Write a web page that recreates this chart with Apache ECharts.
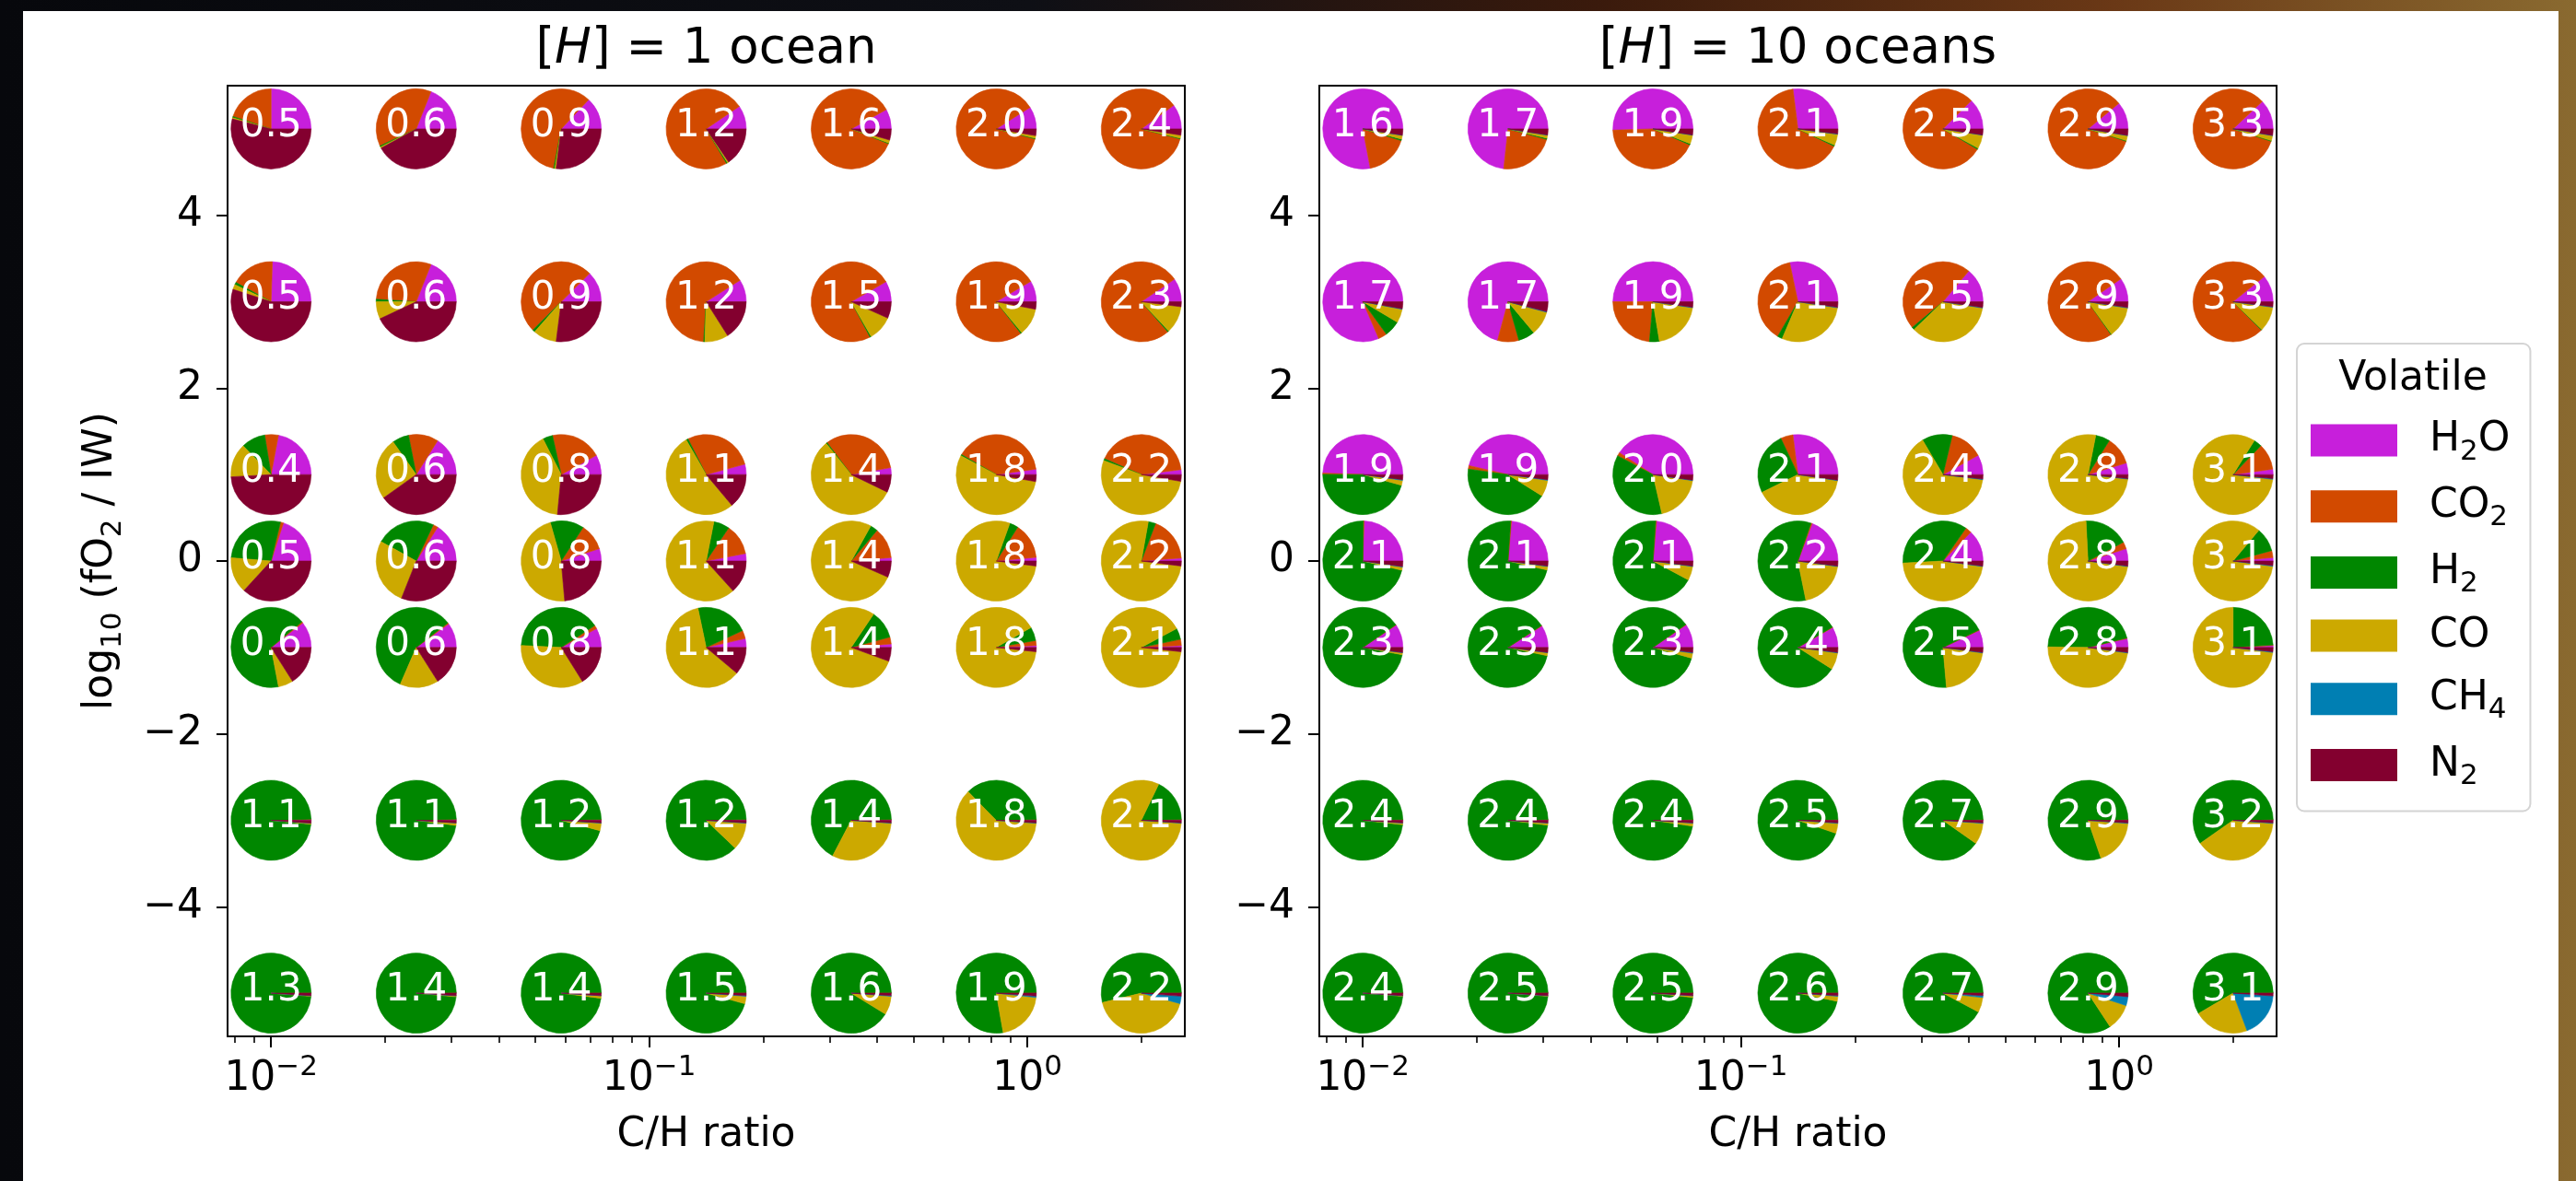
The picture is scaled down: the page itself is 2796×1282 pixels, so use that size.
<!DOCTYPE html>
<html><head><meta charset="utf-8">
<script src="https://cdn.jsdelivr.net/npm/echarts@6/dist/echarts.min.js"></script>
<style>
html,body{margin:0;padding:0;width:2796px;height:1282px;overflow:hidden;
background:linear-gradient(90deg,#07080c 0%,#0e0f15 40%,#3a1a0c 62%,#6a3816 82%,#8a6a30 100%);}
#paper{position:absolute;left:25px;top:12px;width:2752px;height:1270px;background:#fff;}
#chart{position:absolute;left:0;top:0;width:2796px;height:1282px;}
</style></head><body><div id="paper"></div><div id="chart"></div>
<script>
// ---------------- data ----------------
const CH_RATIO = [0.01, 0.0242, 0.0585, 0.1414, 0.342, 0.827, 2.0];
const LOG_FO2 = [5, 3, 1, 0, -1, -3, -5];
const VOLATILES = ['H2O', 'CO2', 'H2', 'CO', 'CH4', 'N2'];
const VOL_COLORS = ['#C71FDB', '#D24A00', '#008700', '#CCA900', '#007FB3', '#83002F'];
const X_MAJOR_TICKS = [0.01, 0.1, 1];
const X_MINOR_TICKS = [0.008, 0.009, 0.02, 0.03, 0.04, 0.05, 0.06, 0.07, 0.08, 0.09,
  0.2, 0.3, 0.4, 0.5, 0.6, 0.7, 0.8, 0.9, 2];
const Y_TICKS = [-4, -2, 0, 2, 4];
const X_RANGE = [0.007673, 2.6069];
const Y_RANGE = [-5.5, 5.5];

// Pie labels (rows follow LOG_FO2, columns follow CH_RATIO)
const LABELS_1OCEAN = [
  [0.5, 0.6, 0.9, 1.2, 1.6, 2.0, 2.4],
  [0.5, 0.6, 0.9, 1.2, 1.5, 1.9, 2.3],
  [0.4, 0.6, 0.8, 1.1, 1.4, 1.8, 2.2],
  [0.5, 0.6, 0.8, 1.1, 1.4, 1.8, 2.2],
  [0.6, 0.6, 0.8, 1.1, 1.4, 1.8, 2.1],
  [1.1, 1.1, 1.2, 1.2, 1.4, 1.8, 2.1],
  [1.3, 1.4, 1.4, 1.5, 1.6, 1.9, 2.2]
];
const LABELS_10OCEANS = [
  [1.6, 1.7, 1.9, 2.1, 2.5, 2.9, 3.3],
  [1.7, 1.7, 1.9, 2.1, 2.5, 2.9, 3.3],
  [1.9, 1.9, 2.0, 2.1, 2.4, 2.8, 3.1],
  [2.1, 2.1, 2.1, 2.2, 2.4, 2.8, 3.1],
  [2.3, 2.3, 2.3, 2.4, 2.5, 2.8, 3.1],
  [2.4, 2.4, 2.4, 2.5, 2.7, 2.9, 3.2],
  [2.4, 2.5, 2.5, 2.6, 2.7, 2.9, 3.1]
];

// Fractions [H2O, CO2, H2, CO, CH4, N2], one array per fO2 row — 1 ocean
const OCEAN1_FO2_P5 = [
  [0.25, 0.20, 0.005, 0.005, 0, 0.54], [0.19, 0.38, 0.005, 0.005, 0, 0.42],
  [0.13, 0.59, 0.005, 0.005, 0, 0.27], [0.095, 0.74, 0.005, 0.005, 0, 0.155],
  [0.08, 0.86, 0.003, 0.012, 0, 0.045], [0.09, 0.87, 0.003, 0.01, 0, 0.027],
  [0.1, 0.86, 0.003, 0.012, 0, 0.025]];
const OCEAN1_FO2_P3 = [
  [0.245, 0.175, 0.01, 0.02, 0, 0.55], [0.19, 0.30, 0.01, 0.07, 0, 0.43],
  [0.125, 0.50, 0.01, 0.095, 0, 0.27], [0.09, 0.65, 0.005, 0.095, 0, 0.16],
  [0.083, 0.745, 0.005, 0.10, 0, 0.067], [0.085, 0.77, 0.005, 0.11, 0, 0.03],
  [0.095, 0.77, 0.005, 0.11, 0, 0.02]];
const OCEAN1_FO2_P1 = [
  [0.22, 0.055, 0.097, 0.136, 0, 0.49], [0.16, 0.12, 0.067, 0.25, 0, 0.40],
  [0.08, 0.205, 0.04, 0.41, 0, 0.265], [0.042, 0.283, 0.008, 0.528, 0, 0.139],
  [0.028, 0.325, 0.005, 0.57, 0, 0.072], [0.022, 0.395, 0.005, 0.55, 0, 0.028],
  [0.02, 0.415, 0.008, 0.53, 0, 0.027]];
const OCEAN1_FO2_0 = [
  [0.2, 0.012, 0.275, 0.145, 0, 0.368], [0.16, 0.02, 0.24, 0.27, 0, 0.31],
  [0.05, 0.108, 0.136, 0.47, 0, 0.236], [0.03, 0.125, 0.064, 0.648, 0, 0.133],
  [0.014, 0.125, 0.03, 0.765, 0, 0.066], [0.015, 0.145, 0.035, 0.785, 0, 0.02],
  [0.012, 0.18, 0.03, 0.758, 0, 0.02]];
const OCEAN1_FO2_M1 = [
  [0.105, 0.005, 0.67, 0.06, 0, 0.16], [0.1, 0.005, 0.58, 0.155, 0, 0.16],
  [0.078, 0.014, 0.4, 0.347, 0, 0.161], [0.036, 0.033, 0.214, 0.606, 0, 0.111],
  [0.014, 0.028, 0.114, 0.788, 0, 0.056], [0.008, 0.02, 0.055, 0.9, 0, 0.017],
  [0.008, 0.025, 0.045, 0.905, 0, 0.017]];
const OCEAN1_FO2_M3 = [
  [0.004, 0.0005, 0.98, 0.004, 0.0005, 0.011], [0.004, 0.0005, 0.975, 0.01, 0.0005, 0.01],
  [0.003, 0.0005, 0.955, 0.03, 0.0015, 0.01], [0.003, 0.0005, 0.875, 0.11, 0.0015, 0.01],
  [0.003, 0.0005, 0.67, 0.315, 0.0015, 0.01], [0.003, 0.0005, 0.37, 0.615, 0.0015, 0.01],
  [0.003, 0.0005, 0.175, 0.81, 0.0015, 0.01]];
const OCEAN1_FO2_M5 = [
  [0.002, 0.0005, 0.985, 0.002, 0.0005, 0.01], [0.002, 0.0005, 0.983, 0.004, 0.0005, 0.01],
  [0.002, 0.0005, 0.977, 0.01, 0.0005, 0.01], [0.002, 0.0005, 0.955, 0.03, 0.0025, 0.01],
  [0.002, 0.0005, 0.91, 0.075, 0.0025, 0.01], [0.002, 0.0005, 0.775, 0.205, 0.005, 0.012],
  [0.002, 0.0005, 0.535, 0.42, 0.03, 0.012]];

// — 10 oceans
const OCEAN10_FO2_P5 = [
  [0.78, 0.173, 0.006, 0.015, 0.001, 0.025], [0.733, 0.225, 0.005, 0.012, 0.001, 0.024],
  [0.505, 0.43, 0.005, 0.035, 0.001, 0.024], [0.27, 0.66, 0.005, 0.045, 0.001, 0.02],
  [0.125, 0.79, 0.005, 0.055, 0.001, 0.024], [0.11, 0.84, 0.003, 0.02, 0.001, 0.026],
  [0.12, 0.83, 0.003, 0.02, 0.001, 0.026]];
const OCEAN10_FO2_P3 = [
  [0.815, 0.035, 0.065, 0.055, 0.002, 0.028], [0.708, 0.086, 0.067, 0.097, 0.002, 0.04],
  [0.5, 0.236, 0.04, 0.2, 0.002, 0.022], [0.283, 0.383, 0.02, 0.29, 0.002, 0.022],
  [0.139, 0.472, 0.011, 0.353, 0.002, 0.023], [0.097, 0.75, 0.003, 0.125, 0.002, 0.023],
  [0.108, 0.767, 0.003, 0.1, 0.002, 0.02]];
const OCEAN10_FO2_P1 = [
  [0.494, 0.005, 0.458, 0.02, 0.003, 0.02], [0.464, 0.014, 0.433, 0.066, 0.003, 0.02],
  [0.408, 0.014, 0.364, 0.19, 0.002, 0.022], [0.27, 0.05, 0.253, 0.403, 0.002, 0.022],
  [0.08, 0.133, 0.122, 0.645, 0.002, 0.018], [0.047, 0.114, 0.058, 0.763, 0.002, 0.016],
  [0.022, 0.106, 0.033, 0.82, 0.003, 0.016]];
const OCEAN10_FO2_0 = [
  [0.245, 0.003, 0.715, 0.013, 0.002, 0.022], [0.236, 0.003, 0.725, 0.014, 0.002, 0.02],
  [0.236, 0.003, 0.683, 0.056, 0.002, 0.02], [0.192, 0.005, 0.585, 0.196, 0.002, 0.02],
  [0.128, 0.025, 0.355, 0.47, 0.002, 0.02], [0.05, 0.028, 0.18, 0.72, 0.002, 0.02],
  [0.014, 0.028, 0.097, 0.84, 0.003, 0.018]];
const OCEAN10_FO2_M1 = [
  [0.094, 0.002, 0.875, 0.008, 0.001, 0.02], [0.09, 0.002, 0.875, 0.012, 0.001, 0.02],
  [0.095, 0.002, 0.86, 0.02, 0.003, 0.02], [0.083, 0.002, 0.825, 0.068, 0.002, 0.02],
  [0.07, 0.002, 0.692, 0.214, 0.002, 0.02], [0.036, 0.002, 0.46, 0.48, 0.002, 0.02],
  [0.008, 0.002, 0.24, 0.73, 0.003, 0.017]];
const OCEAN10_FO2_M3 = [
  [0.002, 0.0005, 0.98, 0.006, 0.0015, 0.01], [0.002, 0.0005, 0.978, 0.008, 0.0015, 0.01],
  [0.002, 0.0005, 0.975, 0.012, 0.0015, 0.01], [0.002, 0.0005, 0.945, 0.04, 0.0025, 0.01],
  [0.002, 0.0005, 0.9, 0.085, 0.0025, 0.01], [0.002, 0.0005, 0.8, 0.185, 0.0025, 0.01],
  [0.002, 0.0005, 0.595, 0.39, 0.0025, 0.01]];
const OCEAN10_FO2_M5 = [
  [0.002, 0.0005, 0.985, 0.002, 0.0005, 0.01], [0.002, 0.0005, 0.985, 0.002, 0.0005, 0.01],
  [0.002, 0.0005, 0.98, 0.007, 0.0005, 0.01], [0.002, 0.0005, 0.965, 0.02, 0.0025, 0.01],
  [0.002, 0.0005, 0.92, 0.06, 0.0075, 0.01], [0.002, 0.0005, 0.84, 0.107, 0.036, 0.014],
  [0.002, 0.0005, 0.582, 0.222, 0.182, 0.011]];

const ROWS_1OCEAN = [OCEAN1_FO2_P5, OCEAN1_FO2_P3, OCEAN1_FO2_P1, OCEAN1_FO2_0, OCEAN1_FO2_M1, OCEAN1_FO2_M3, OCEAN1_FO2_M5];
const ROWS_10OCEANS = [OCEAN10_FO2_P5, OCEAN10_FO2_P3, OCEAN10_FO2_P1, OCEAN10_FO2_0, OCEAN10_FO2_M1, OCEAN10_FO2_M3, OCEAN10_FO2_M5];

// ---------------- build ----------------
function buildData(rows, labels) {
  const out = [];
  rows.forEach((row, i) => row.forEach((fr, j) => {
    out.push([CH_RATIO[j], LOG_FO2[i], labels[i][j]].concat(fr));
  }));
  return out;
}
const FONT = 'DejaVu Sans';
const PIE_R = 43.5;
function renderPie(params, api) {
  const c = api.coord([api.value(0), api.value(1)]);
  const fr = []; let sum = 0;
  for (let k = 0; k < 6; k++) { const v = +api.value(3 + k) || 0; fr.push(v); sum += v; }
  let acc = 0; const children = [];
  for (let k = 0; k < 6; k++) {
    if (fr[k] <= 0) continue;
    const a0 = acc / sum * 2 * Math.PI; acc += fr[k]; const a1 = acc / sum * 2 * Math.PI;
    children.push({
      type: 'sector',
      shape: { cx: c[0], cy: c[1], r: PIE_R, r0: 0, startAngle: -a1, endAngle: -a0, clockwise: true },
      style: { fill: VOL_COLORS[k], stroke: VOL_COLORS[k], lineWidth: 0.6 }
    });
  }
  children.push({
    type: 'text', x: c[0], y: c[1] - 3,
    style: { text: Number(api.value(2)).toFixed(1), align: 'center', verticalAlign: 'middle',
      fill: '#ffffff', fontSize: 42, fontFamily: FONT }
  });
  return { type: 'group', children: children };
}
const supFmt = v => {
  const e = Math.round(Math.log10(v));
  return '{b|10}{s|' + (e < 0 ? '\u2212' + Math.abs(e) : String(e)) + '}';
};
const supRich = {
  b: { fontSize: 44, fontFamily: FONT, color: '#000', lineHeight: 50 },
  s: { fontSize: 31, fontFamily: FONT, color: '#000', lineHeight: 50, padding: [0, 0, 27, 0] }
};
const axisLineStyle = { color: '#000', width: 2 };
function majorX(gridIndex) {
  return {
    type: 'log', logBase: 10, gridIndex: gridIndex, min: X_RANGE[0], max: X_RANGE[1], position: 'bottom',
    axisLine: { show: true, onZero: false, lineStyle: axisLineStyle },
    axisTick: { show: true, customValues: X_MAJOR_TICKS, length: 12, lineStyle: axisLineStyle },
    axisLabel: { show: true, customValues: X_MAJOR_TICKS, formatter: supFmt, rich: supRich, margin: 22 },
    splitLine: { show: false }, minorTick: { show: false },
    name: 'C/H ratio', nameLocation: 'middle', nameGap: 108, nameMoveOverlap: false,
    nameTextStyle: { fontSize: 44, fontFamily: FONT, color: '#000', verticalAlign: 'middle' }
  };
}
function minorX(gridIndex) {
  return {
    type: 'log', logBase: 10, gridIndex: gridIndex, min: X_RANGE[0], max: X_RANGE[1], position: 'bottom',
    offset: 0,
    axisLine: { show: false, onZero: false },
    axisTick: { show: true, customValues: X_MINOR_TICKS, length: 7, lineStyle: { color: '#000', width: 1.6 } },
    axisLabel: { show: false }, splitLine: { show: false }
  };
}
function yAxis(gridIndex, withName) {
  const o = {
    type: 'value', gridIndex: gridIndex, min: Y_RANGE[0], max: Y_RANGE[1],
    axisLine: { show: true, onZero: false, lineStyle: axisLineStyle },
    axisTick: { show: true, customValues: Y_TICKS, length: 12, lineStyle: axisLineStyle },
    axisLabel: { show: true, customValues: Y_TICKS, margin: 27, fontSize: 44, fontFamily: FONT, color: '#000',
      formatter: v => (v < 0 ? '\u2212' + Math.abs(v) : String(v)) },
    splitLine: { show: false }
  };
  if (withName) {
    Object.assign(o, {
      name: 'log{s|10} (fO{s|2} / IW)', nameLocation: 'middle', nameGap: 137, nameRotate: 90, nameMoveOverlap: false,
      nameTextStyle: { fontSize: 44, fontFamily: FONT, color: '#000', verticalAlign: 'middle', lineHeight: 50,
        rich: { s: { fontSize: 31, fontFamily: FONT, color: '#000', lineHeight: 50, padding: [25, 0, 0, 0] } } }
    });
  }
  return o;
}
const LEGEND_TEXT = { H2O: 'H{s|2}O', CO2: 'CO{s|2}', H2: 'H{s|2}', CO: 'CO', CH4: 'CH{s|4}', N2: 'N{s|2}' };
const gridBase = { show: true, borderColor: '#000', borderWidth: 2, backgroundColor: 'transparent',
  top: 93, width: 1039, height: 1032, outerBoundsMode: 'none', containLabel: false };

const titleRich = { i: { fontSize: 53, fontFamily: FONT, fontStyle: 'italic', fill: '#000' } };
const option = {
  animation: false,
  backgroundColor: 'transparent',
  grid: [Object.assign({ left: 247 }, gridBase), Object.assign({ left: 1432 }, gridBase)],
  xAxis: [majorX(0), minorX(0), majorX(1), minorX(1)],
  yAxis: [yAxis(0, true), yAxis(1, false)],
  legend: {
    orient: 'vertical', left: 2493, top: 373, data: VOLATILES, icon: 'rect',
    itemWidth: 94, itemHeight: 35, itemGap: 15.7, selectedMode: false,
    padding: [77, 22, 22, 15],
    backgroundColor: '#fff', borderColor: '#d4d4d4', borderWidth: 2, borderRadius: 8,
    itemStyle: { opacity: 1 },
    formatter: n => LEGEND_TEXT[n],
    textStyle: { fontSize: 44, fontFamily: FONT, color: '#000', lineHeight: 50, padding: [0, 0, 0, 30],
      rich: { s: { fontSize: 31, fontFamily: FONT, color: '#000', lineHeight: 50, padding: [25, 0, 0, 0] } } }
  },
  graphic: [
    { type: 'text', x: 766.5, y: 54, style: { text: '[{i|H}] = 1 ocean', rich: titleRich, align: 'center', verticalAlign: 'middle', fontSize: 53, fontFamily: FONT, fill: '#000' } },
    { type: 'text', x: 1951.5, y: 54, style: { text: '[{i|H}] = 10 oceans', rich: titleRich, align: 'center', verticalAlign: 'middle', fontSize: 53, fontFamily: FONT, fill: '#000' } },
    { type: 'text', x: 2619, y: 412, z: 100, style: { text: 'Volatile', align: 'center', verticalAlign: 'middle', fontSize: 44, fontFamily: FONT, fill: '#000' } }
  ],
  series: [
    { type: 'custom', name: '1 ocean', xAxisIndex: 0, yAxisIndex: 0, renderItem: renderPie, clip: false,
      encode: { x: 0, y: 1 }, data: buildData(ROWS_1OCEAN, LABELS_1OCEAN) },
    { type: 'custom', name: '10 oceans', xAxisIndex: 2, yAxisIndex: 1, renderItem: renderPie, clip: false,
      encode: { x: 0, y: 1 }, data: buildData(ROWS_10OCEANS, LABELS_10OCEANS) }
  ].concat(VOLATILES.map((v, k) => ({ type: 'scatter', name: v, xAxisIndex: 0, yAxisIndex: 0, data: [],
    itemStyle: { color: VOL_COLORS[k], opacity: 1 } })))
};
const chart = echarts.init(document.getElementById('chart'), null, { renderer: 'canvas' });
chart.setOption(option);
</script></body></html>
